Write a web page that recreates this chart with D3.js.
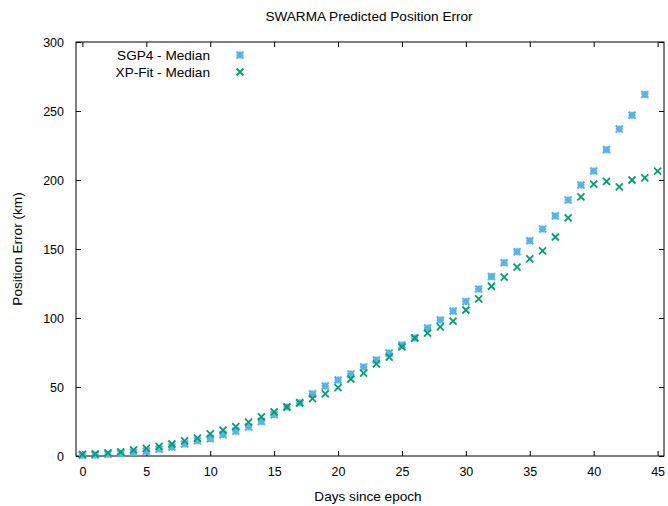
<!DOCTYPE html>
<html>
<head>
<meta charset="utf-8">
<script src="https://cdn.jsdelivr.net/npm/d3@7"></script>
<style>
  body { margin: 0; background: #fff; }
  svg text { font-family: "Liberation Sans", Arial, sans-serif; fill: #000; }
  .axis path { display: none; }
  .axis line { stroke: #000; stroke-width: 1; }
  .axis text { font-size: 12.5px; }
</style>
</head>
<body>
<div id="chart"></div>
<script>
// Data
const days = [0, 1, 2, 3, 4, 5, 6, 7, 8, 9, 10, 11, 12, 13, 14, 15, 16, 17, 18, 19, 20, 21, 22,
  23, 24, 25, 26, 27, 28, 29, 30, 31, 32, 33, 34, 35, 36, 37, 38, 39, 40, 41, 42, 43, 44, 45];
const sgp4Median = [0.6, 0.8, 1.2, 1.8, 2.5, 3.5, 5, 6.5, 8.7, 11, 12.6, 15.5, 18, 21, 25, 30,
  35.5, 38.5, 45, 50.7, 55, 59.4, 64.5, 69.6, 74.6, 80.4, 85.5, 92.8, 98.6, 105, 112, 121, 130,
  140, 148, 156, 164.5, 174, 185.5, 196.4, 206.5, 222, 237, 247, 262];
const xpFitMedian = [1.2, 1.5, 2.2, 3, 4.5, 5.5, 7, 8.7, 11, 13, 16, 18.8, 21.3, 24.6, 28.3, 32,
  35.5, 38.5, 41.5, 45, 49.5, 55.8, 60, 66.7, 71.7, 79, 85.5, 89, 93.5, 97.8, 105.8, 113.8, 123,
  129.7, 136.9, 142.8, 148.6, 158.7, 172.5, 187.7, 197, 199, 195, 200, 201.5, 206.5];
const xTicks = [0, 5, 10, 15, 20, 25, 30, 35, 40, 45];
const yTicks = [0, 50, 100, 150, 200, 250, 300];

const width = 668, height = 506;
const margin = {top: 42, right: 4, bottom: 50, left: 76};
const innerW = width - margin.left - margin.right;
const innerH = height - margin.top - margin.bottom;

const svg = d3.select('#chart').append('svg')
  .attr('width', width)
  .attr('height', height);

const g = svg.append('g')
  .attr('transform', `translate(${margin.left},${margin.top})`);

const x = d3.scaleLinear().domain([-0.5, 45.5]).range([0, innerW]);
const y = d3.scaleLinear().domain([0, 300]).range([innerH, 0]);

// Axes with inward ticks, mirrored on top / right
g.append('g').attr('class', 'axis')
  .attr('transform', `translate(0,${innerH})`)
  .call(d3.axisBottom(x).tickValues(xTicks).tickSize(-5).tickPadding(11));
g.append('g').attr('class', 'axis')
  .call(d3.axisTop(x).tickValues(xTicks).tickSize(-5).tickFormat(''));
g.append('g').attr('class', 'axis')
  .call(d3.axisLeft(y).tickValues(yTicks).tickSize(-5).tickPadding(12));
g.append('g').attr('class', 'axis')
  .attr('transform', `translate(${innerW},0)`)
  .call(d3.axisRight(y).tickValues(yTicks).tickSize(-5).tickFormat(''));

g.append('rect')
  .attr('width', innerW)
  .attr('height', innerH)
  .attr('fill', 'none')
  .attr('stroke', '#000')
  .attr('stroke-width', 1);

// Titles
svg.append('text')
  .attr('x', 369).attr('y', 21)
  .attr('text-anchor', 'middle')
  .attr('font-size', 13.6)
  .text('SWARMA Predicted Position Error');

svg.append('text')
  .attr('x', 368).attr('y', 501)
  .attr('text-anchor', 'middle')
  .attr('font-size', 13.6)
  .text('Days since epoch');

svg.append('text')
  .attr('transform', 'translate(22,249) rotate(-90)')
  .attr('text-anchor', 'middle')
  .attr('font-size', 13.6)
  .text('Position Error (km)');

// Marker shapes (gnuplot pt 3 = asterisk, pt 2 = cross)
const s = 3.5;
const starPath = `M${-s},0L${s},0M0,${-s}L0,${s}M${-s},${-s}L${s},${s}M${-s},${s}L${s},${-s}`;
const crossPath = `M${-s},${-s}L${s},${s}M${-s},${s}L${s},${-s}`;

const series = [
  {name: 'SGP4 - Median', values: sgp4Median, color: '#56b4e9', path: starPath, sw: 2.2},
  {name: 'XP-Fit - Median', values: xpFitMedian, color: '#009e73', path: crossPath, sw: 1.8}
];

series.forEach((ser, i) => {
  g.append('g').selectAll('path')
    .data(ser.values.map((v, j) => ({d: days[j], v})))
    .enter().append('path')
    .attr('transform', p => `translate(${x(p.d)},${y(p.v)})`)
    .attr('d', ser.path)
    .attr('fill', 'none')
    .attr('stroke', ser.color)
    .attr('stroke-width', ser.sw);

  const ly = 55 + i * 17;
  svg.append('text')
    .attr('x', 210).attr('y', ly)
    .attr('dy', '0.35em')
    .attr('text-anchor', 'end')
    .attr('font-size', 13.6)
    .text(ser.name);
  svg.append('path')
    .attr('transform', `translate(240,${ly})`)
    .attr('d', ser.path)
    .attr('fill', 'none')
    .attr('stroke', ser.color)
    .attr('stroke-width', ser.sw);
});
</script>
</body>
</html>
